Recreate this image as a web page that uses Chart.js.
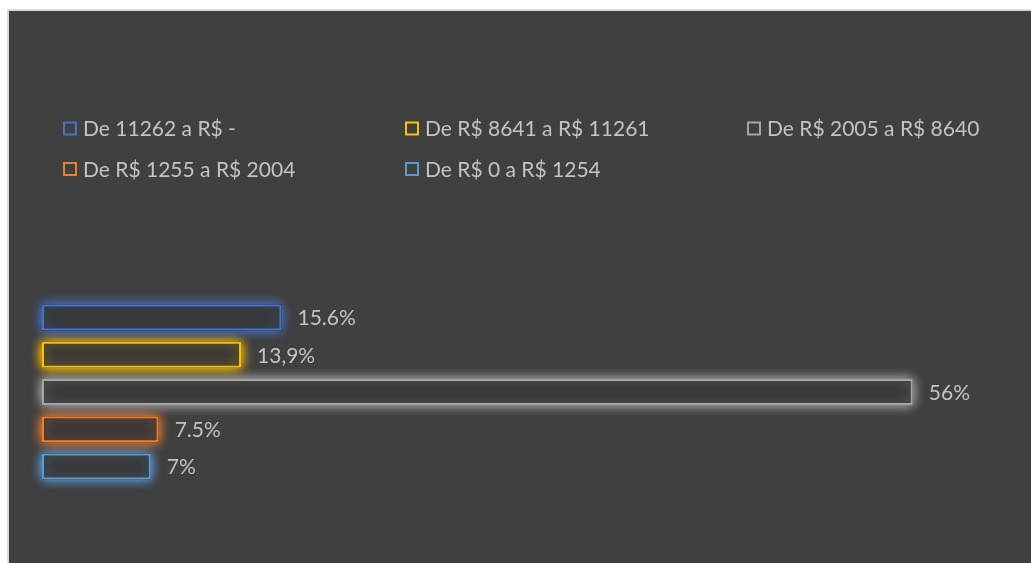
<!DOCTYPE html>
<html>
<head>
<meta charset="utf-8">
<script src="https://cdn.jsdelivr.net/npm/chart.js@4"></script>
<style>
  html, body { margin: 0; padding: 0; background: #fff; overflow: hidden; }
  #frame {
    position: absolute; left: 7px; top: 9px;
    width: 1100px; height: 700px;
    border: 2px solid #d9d9d9; background: #404040;
  }
  #chart { position: absolute; left: 0; top: 0; }
</style>
</head>
<body>
<div id="frame"></div>
<canvas id="chart" width="1031" height="563"></canvas>
<script>
// faixas de renda (legenda) e percentuais
const categorias = ["Faixa"];
const faixas = ["De 11262 a R$ -", "De R$ 8641 a R$ 11261", "De R$ 2005 a R$ 8640", "De R$ 1255 a R$ 2004", "De R$ 0 a R$ 1254"];
const percentuais = [15.4, 12.8, 56, 7.5, 7];
const rotulos = ["15.6%", "13,9%", "56%", "7.5%", "7%"];
const cores = ["#4472C4", "#FFC000", "#A5A5A5", "#ED7D31", "#5B9BD5"];

const FONT = "Lato, 'Open Sans', sans-serif";
const TEXT_COLOR = "#c3c3c3";

function hexToRgba(hex, a) {
    const n = parseInt(hex.slice(1), 16);
    return "rgba(" + (n >> 16) + "," + ((n >> 8) & 255) + "," + (n & 255) + "," + a + ")";
}

// brilho em volta das barras (contorno colorido com sombra)
const glowPlugin = {
    id: "glow",
    beforeDatasetDraw(chart, args) {
        const ctx = chart.ctx;
        const color = chart.data.datasets[args.index].borderColor;
        ctx.save();
        ctx.shadowColor = hexToRgba(color, 0.9);
        ctx.shadowBlur = 12;
        args.meta.data.forEach(bar => {
            const p = bar.getProps(["x", "y", "base", "height"], true);
            const left = Math.min(p.base, p.x);
            ctx.fillStyle = "#373737";
            ctx.fillRect(left, p.y - p.height / 2, Math.abs(p.x - p.base), p.height);
            ctx.fillRect(left, p.y - p.height / 2, Math.abs(p.x - p.base), p.height);
        });
        ctx.shadowBlur = 12;
        ctx.shadowColor = hexToRgba(color, 0.8);
    },
    afterDatasetDraw(chart) {
        chart.ctx.restore();
    }
};

// rótulos de valor à direita das barras
const labelPlugin = {
    id: "valueLabels",
    afterDatasetsDraw(chart) {
        const ctx = chart.ctx;
        ctx.save();
        ctx.font = "21px " + FONT;
        ctx.fillStyle = TEXT_COLOR;
        ctx.textBaseline = "middle";
        ctx.textAlign = "left";
        chart.data.datasets.forEach((ds, i) => {
            const bar = chart.getDatasetMeta(i).data[0];
            ctx.fillText(rotulos[i], bar.x + 16, bar.y + 1);
        });
        ctx.restore();
    }
};

// legenda em 3 colunas fixas
const legendPlugin = {
    id: "gridLegend",
    afterDraw(chart) {
        const ctx = chart.ctx;
        const colX = [63, 405, 747];
        const rowY = [128.5, 169];
        ctx.save();
        ctx.font = "21px " + FONT;
        ctx.textBaseline = "middle";
        chart.data.datasets.forEach((ds, i) => {
            const x = colX[i % 3];
            const y = rowY[Math.floor(i / 3)];
            ctx.strokeStyle = ds.borderColor;
            ctx.lineWidth = 2;
            ctx.strokeRect(x + 1, y - 6, 12, 12);
            ctx.fillStyle = TEXT_COLOR;
            ctx.fillText(ds.label, x + 20, y + 1);
        });
        ctx.restore();
    }
};

const ctx = document.getElementById("chart").getContext("2d");

new Chart(ctx, {
    type: "bar",
    data: {
        labels: categorias,
        datasets: faixas.map((f, i) => ({
            label: f,
            data: [percentuais[i]],
            borderColor: cores[i],
            backgroundColor: "rgba(0,0,0,0)",
            borderWidth: 2,
            borderSkipped: false,
            categoryPercentage: 1,
            barPercentage: 0.7,
            clip: false
        }))
    },
    options: {
        indexAxis: "y",
        responsive: false,
        animation: false,
        devicePixelRatio: 1,
        layout: { padding: { left: 42, right: 56, top: 299, bottom: 78 } },
        scales: {
            x: { display: false, min: 0, max: 60 },
            y: { display: false }
        },
        plugins: {
            legend: { display: false },
            tooltip: { enabled: false }
        }
    },
    plugins: [glowPlugin, labelPlugin, legendPlugin]
});
</script>
</body>
</html>
